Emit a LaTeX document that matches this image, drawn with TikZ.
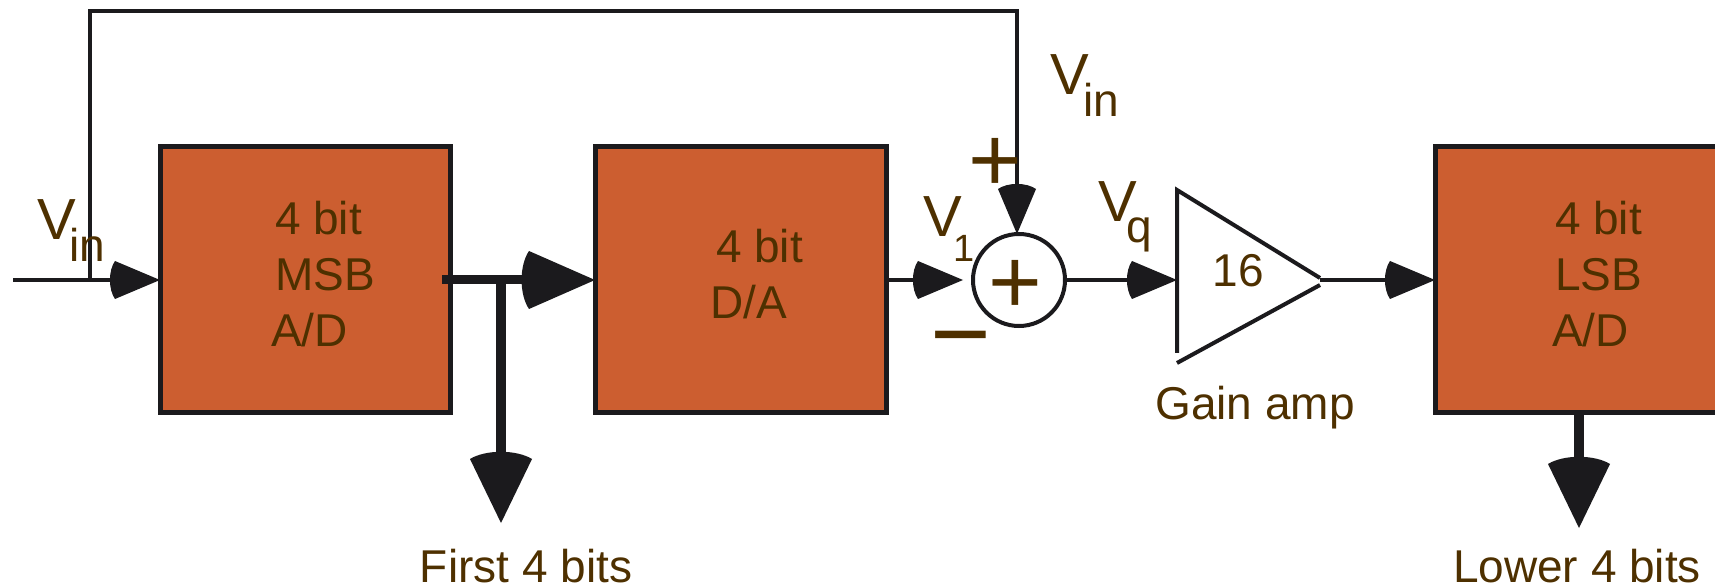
\documentclass[tikz,border=0pt]{standalone}
\usepackage{fontspec}
\setmainfont{Liberation Sans}
\usetikzlibrary{arrows.meta}
\definecolor{boxfill}{RGB}{204,94,48}
\definecolor{tc}{RGB}{78,48,0}
\definecolor{lc}{RGB}{27,26,29}
\pgfdeclarearrow{
  name = RB,
  parameters = {\the\pgfarrowlength,\the\pgfarrowwidth},
  setup code = {
    \pgfarrowssettipend{0pt}
    \pgfarrowssetbackend{-1.1\pgfarrowlength}
    \pgfarrowssetlineend{-0.6\pgfarrowlength}
    \pgfarrowssavethe\pgfarrowlength
    \pgfarrowssavethe\pgfarrowwidth
  },
  drawing code = {
    \pgfpathmoveto{\pgfqpoint{0pt}{0pt}}
    \pgfpathlineto{\pgfpoint{-\pgfarrowlength}{0.5\pgfarrowwidth}}
    \pgfpathcurveto{\pgfpoint{-1.15\pgfarrowlength}{0.25\pgfarrowwidth}}{\pgfpoint{-1.15\pgfarrowlength}{-0.25\pgfarrowwidth}}{\pgfpoint{-\pgfarrowlength}{-0.5\pgfarrowwidth}}
    \pgfpathclose
    \pgfusepathqfill
  },
  defaults = {length = 20pt, width = 18pt}
}
\newcommand\Vlab[4]{{\fontsize{29}{29}\selectfont V}\kern#2\raisebox{-#3}{\fontsize{#4}{#4}\selectfont #1}}
\begin{document}
\begin{tikzpicture}[x=0.5pt,y=-0.5pt,
  blk/.style={draw=lc, fill=boxfill, line width=2.5pt, minimum height=133pt, inner sep=0pt, outer sep=0pt},
  wire/.style={color=lc, line width=2pt},
  bus/.style={color=lc, line width=4.5pt},
  sarrow/.style={-{RB[length=22.5pt,width=19pt]}},
  barrow/.style={-{RB[length=33pt,width=29pt]}},
  darrow/.style={-{RB[length=32pt,width=31pt]}},
  txt/.style={text=tc, font=\fontsize{23}{28}\selectfont, inner sep=0pt, outer sep=0pt},
  sign/.style={text=tc, font=\fontsize{46}{46}\selectfont, inner sep=0pt, outer sep=0pt}]
\useasboundingbox (0,0) rectangle (1715,588);
\clip (0,0) rectangle (1715,588);
% blocks
\node[blk, minimum width=145pt] (msb) at (305,280) {};
\node[blk, minimum width=145.5pt] (da) at (740.5,280) {};
\node[blk, minimum width=150pt] (lsb) at (1585,280) {};
\node[circle, draw=lc, line width=2pt, minimum size=46pt, inner sep=0pt, outer sep=0pt] (sum) at (1019,280) {};
% block texts
\node[txt, anchor=base west] (msbt) at (275,235) {\begin{tabular}[t]{@{}l@{}}4 bit\\MSB\\\hspace*{-2pt}A/D\end{tabular}};
\node[txt, anchor=base west] (dat) at (716,263) {\begin{tabular}[t]{@{}l@{}}4 bit\\\hspace*{-3pt}D/A\end{tabular}};
\node[txt, anchor=base west] (lsbt) at (1555,235) {\begin{tabular}[t]{@{}l@{}}4 bit\\LSB\\\hspace*{-1.5pt}A/D\end{tabular}};
% coordinates
\coordinate (inj) at (13,280);
\coordinate (tap) at (90,280);
\coordinate (fbtop) at (1017,11);
\coordinate (br) at (501,280);
\coordinate (fbits) at (501,523);
\coordinate (ampin) at (1177,280);
\coordinate (ampout) at (1320,280);
\coordinate (lbits) at (1579,528);
% connectors
\draw[wire, sarrow] (inj) -- (msb.west);
\draw[wire, sarrow] (tap) |- (fbtop) -- (fbtop |- sum.north);
\draw[bus, barrow] ([xshift=-4pt]msb.east) -- (da.west);
\draw[wire, line width=5pt, darrow] (br) -- (fbits);
\draw[wire, sarrow, shorten >=5pt] (da.east) -- (sum.west);
\draw[wire, sarrow] (sum.east) -- (ampin);
\draw[wire, sarrow] (ampout) -- (lsb.west);
\draw[wire, line width=5pt, darrow] (lbits |- lsb.south) -- (lbits);
% amplifier
\draw[wire] (1177,353) -- (1177,190) -- (1320,278);
\draw[wire] (1177,363) -- (1320,285);
\node[txt, anchor=base] (gain) at (1238,287) {16};
% labels
\node[txt, anchor=base] (gainlbl) at (1255,420) {Gain amp};
\node[txt, anchor=base] (firstlbl) at (526,582) {First 4 bits};
\node[txt, anchor=base] (lowerlbl) at (1577,582) {Lower 4 bits};
\node[sign, anchor=base] (ptop) at (995,192) {+};
\node[sign, anchor=base] (pcir) at (1015,314) {+};
\node[sign, font=\fontsize{52}{52}\selectfont, anchor=base] (mns) at (961,370) {−};
\node[txt, anchor=base west] (vin1) at (37,240) {\Vlab{in}{-3.3pt}{11pt}{23}};
\node[txt, anchor=base west] (vin2) at (1050,95) {\Vlab{in}{-2.8pt}{11pt}{23}};
\node[txt, anchor=base west] (vone) at (923,237) {\Vlab{1}{-4.3pt}{12.5pt}{19}};
\node[txt, anchor=base west] (vq) at (1098,222) {\Vlab{q}{-5.3pt}{10.5pt}{23}};
\end{tikzpicture}
\end{document}
